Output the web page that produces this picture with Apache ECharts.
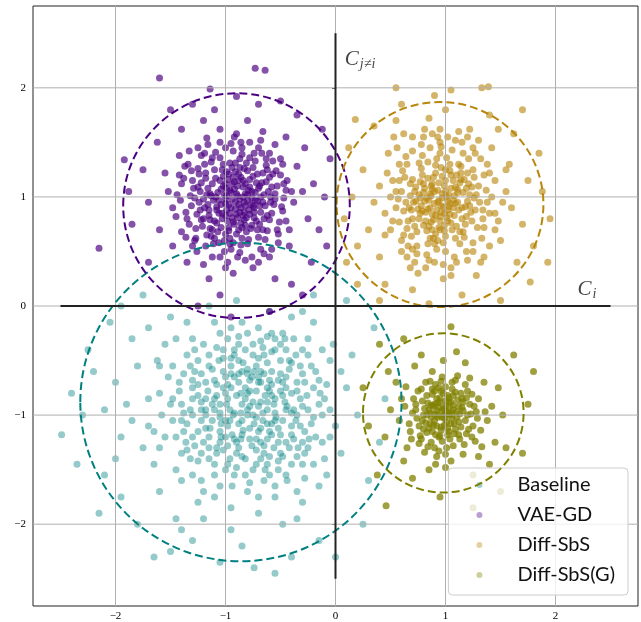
<!DOCTYPE html>
<html>
<head>
<meta charset="utf-8">
<script src="https://cdn.jsdelivr.net/npm/echarts@6/dist/echarts.min.js"></script>
<style>html,body{margin:0;padding:0;background:#fff;}#c{width:641px;height:622px;}</style>
</head>
<body>
<div id="c"></div>
<script>
// ---- data ----
const seriesNames = ['Baseline', 'VAE-GD', 'Diff-SbS', 'Diff-SbS(G)'];
const xTicks = [-2, -1, 0, 1, 2];
const yTicks = [-2, -1, 0, 1, 2];

const baselinePts = [
[-0.85,-0.90],[-0.62,-0.75],[-1.05,-1.02],[-0.70,-1.15],[-1.10,-0.68],[-0.95,-0.55],[-0.55,-1.05],[-0.80,-0.62],[-1.22,-0.95],[-0.48,-0.82],
[-0.90,-1.25],[-0.65,-0.45],[-1.15,-1.20],[-0.40,-1.10],[-1.30,-0.75],[-0.75,-1.00],[-1.00,-0.80],[-0.58,-0.60],[-0.88,-0.70],[-1.08,-1.35],
[-0.72,-1.32],[-1.25,-0.50],[-0.45,-0.95],[-0.98,-1.10],[-0.68,-0.88],[-1.35,-1.08],[-0.52,-1.25],[-0.82,-0.40],[-1.18,-0.85],[-0.35,-0.70],
[-0.92,-0.98],[-0.60,-1.38],[-1.28,-1.28],[-0.78,-0.78],[-1.02,-0.60],[-0.42,-1.30],[-1.12,-1.05],[-0.85,-1.18],[-0.55,-0.85],[-1.40,-0.90],
[-0.72,-0.55],[-0.96,-1.40],[-0.30,-0.92],[-1.20,-0.35],[-0.66,-1.05],[-1.05,-0.90],[-0.88,-0.50],[-0.50,-0.50],[-1.32,-1.40],[-0.78,-1.22],
[-0.62,-0.95],[-1.00,-1.20],[-0.82,-0.85],[-1.15,-0.55],[-0.38,-1.22],[-0.92,-0.65],[-0.70,-0.70],[-1.25,-1.15],[-0.48,-1.05],[-1.08,-0.72],
[-0.58,-1.18],[-0.85,-1.05],[-1.38,-0.62],[-0.75,-0.35],[-0.98,-0.85],[-0.32,-0.55],[-1.10,-1.45],[-0.65,-0.62],[-0.90,-1.35],[-1.45,-1.20],
[-1.60,-0.80],[-0.10,-0.85],[-0.85,-0.15],[-0.80,-1.70],[-1.55,-0.35],[-0.20,-1.45],[-1.40,-1.60],[-0.25,-0.30],[-1.70,-1.10],[0.00,-1.10],
[-1.15,0.00],[-0.55,-1.75],[-1.80,-0.55],[-0.05,-0.50],[-1.25,-1.80],[-0.40,-0.10],[-1.65,-1.45],[-0.15,-1.65],[-0.95,-1.85],[-1.50,-0.10],
[-0.60,-0.05],[-1.90,-0.90],[0.10,-0.75],[-1.05,-1.65],[-0.30,-1.80],[-1.35,-0.15],[-1.75,-1.30],[-0.45,-1.55],[-1.85,-0.30],[0.05,-1.35],
[-0.70,-1.90],[-1.60,-1.70],[-0.20,-0.15],[-1.95,-1.20],[-1.20,-1.95],[0.15,-0.45],[-0.90,0.05],[-1.45,-1.95],[-0.35,-1.95],[-2.00,-0.70],
[-1.70,-0.20],[0.20,-1.00],[-0.65,-1.60],[-1.30,-1.55],[-0.12,-1.25],[-1.58,-1.00],[-0.48,-0.25],[-1.10,-1.75],[-0.28,-1.58],[-1.48,-0.55],
[-2.49,-1.18],[-0.74,-2.40],[-2.20,-0.60],[-2.10,-1.55],[-1.80,-2.00],[0.30,-1.60],[0.35,-0.20],[-2.30,-1.00],[-1.50,-2.25],[-0.40,-2.30],
[-0.15,-2.15],[-2.05,-0.15],[0.25,-2.00],[-1.05,-2.35],[-2.35,-1.45],[0.45,-0.85],[-1.95,-1.75],[-0.55,-2.45],[-2.15,-1.90],[-1.75,0.10],
[0.10,0.05],[-2.25,-0.40],[-0.85,-2.20],[0.40,-1.25],[-1.30,-2.15],[-1.95,0.00],[0.00,-2.30],[-2.40,-0.80],[-0.20,0.10],[-1.65,-2.30],
[-0.80,-0.95],[-0.95,-0.75],[-0.68,-1.12],[-1.12,-0.90],[-0.58,-0.72],[-0.88,-1.08],[-1.02,-0.48],[-0.45,-0.65],[-1.22,-1.05],[-0.75,-0.88],
[-0.98,-1.28],[-0.62,-0.52],[-1.18,-0.70],[-0.50,-1.35],[-0.85,-0.60],[-1.05,-0.98],[-0.35,-1.00],[-1.30,-0.85],[-0.72,-1.45],[-0.92,-0.40],
[-0.55,-0.98],[-1.40,-1.35],[-0.78,-0.68],[-1.15,-1.30],[-0.40,-0.80],[-1.00,-0.65],[-0.65,-1.28],[-1.35,-0.45],[-0.82,-1.55],[-0.28,-1.15]
];
const baselineMore = [
[-0.78,-0.92],[-0.90,-0.82],[-0.66,-0.98],[-1.00,-1.05],[-0.72,-0.78],[-0.84,-1.14],[-1.08,-0.82],[-0.56,-0.90],[-0.95,-0.62],[-0.62,-1.22],
[-1.18,-1.00],[-0.45,-0.75],[-0.88,-1.30],[-0.70,-0.48],[-1.25,-0.72],[-0.52,-1.12],[-1.02,-1.32],[-0.80,-0.58],[-0.38,-0.95],[-1.12,-0.58],
[-0.74,-1.08],[-0.96,-0.95],[-0.60,-0.68],[-1.05,-1.15],[-0.82,-0.75],[-0.48,-1.38],[-1.30,-1.00],[-0.68,-1.40],[-0.92,-0.45],[-1.20,-1.25],
[-0.42,-0.58],[-0.86,-0.98],[-0.64,-0.82],[-1.10,-0.95],[-0.76,-1.28],[-0.98,-0.72],[-0.54,-1.02],[-1.28,-0.60],[-0.34,-1.30],[-0.88,-0.35],
[-1.36,-1.25],[-0.58,-0.42],[-1.00,-1.50],[-0.26,-0.82],[-0.70,-0.92],[-1.15,-1.40],[-0.82,-1.40],[-0.50,-0.62],[-1.42,-0.78],[-0.30,-1.45],
[-0.76,-0.65],[-0.94,-1.18],[-0.62,-1.08],[-1.06,-0.50],[-0.40,-1.18],[-1.22,-0.88],[-0.84,-0.52],[-0.56,-1.30],[-1.14,-1.12],[-0.72,-1.22],
[-0.46,-0.88],[-1.32,-0.95],[-0.90,-1.48],[-0.66,-0.38],[-1.48,-1.05],[-0.22,-1.08],[-1.08,-0.38],[-0.52,-1.50],[-1.25,-1.42],[-0.36,-0.45],
[-0.80,-1.00],[-0.99,-0.90],[-0.68,-0.70],[-0.86,-0.80],[-0.60,-1.15],[-1.04,-1.08],[-0.74,-0.60],[-0.92,-1.22],[-0.50,-0.78],[-1.16,-0.78],
[-0.64,-1.50],[-1.38,-1.15],[-0.18,-0.60],[-0.98,-0.30],[-1.52,-0.65],[-0.44,-1.60],[-1.22,-1.60],[-0.12,-1.00],[-0.78,-1.62],[-1.60,-1.30],
[-0.58,-0.25],[-1.30,-0.30],[-0.08,-0.72],[-0.94,-1.65],[-1.70,-0.85],[-0.25,-1.30],[-1.45,-1.50],[-0.70,-0.20],[-0.35,-1.70],[-1.85,-1.05],
[-1.62,-0.50],[-0.05,-1.20],[-1.10,-0.15],[-0.48,-2.00],[-2.00,-1.40],[0.05,-0.60],[-1.40,-2.05],[-0.95,-2.05],[-2.10,-0.95],[-0.30,-0.05],
[-0.45,-0.40],[-0.30,-0.62],[-0.20,-0.75],[-0.38,-0.30],[-0.55,-0.30],[-0.25,-0.45],[-0.15,-0.90],[-0.62,-0.28],[-0.42,-0.50],[-0.18,-1.20],
[-0.32,-0.85],[-0.48,-0.70],[-0.22,-0.55],[-0.68,-0.60],[-0.12,-0.40],[-0.58,-0.82],[-0.36,-1.05],[-0.10,-1.40],[-0.28,-1.35],[-0.40,-1.45],
[-0.92,-1.55],[-1.10,-1.55],[-1.30,-1.20],[-1.40,-1.05],[-1.50,-0.90],[-1.28,-0.40],[-1.45,-0.30],[-0.70,-1.75],[-0.55,-1.65],[-1.20,-1.70],
[-0.05,-0.95],[-0.02,-0.35],[-0.08,-1.55],[-1.60,-0.55],[-1.65,-1.15],[-0.80,-0.25],[-1.05,-0.25],[-0.60,-1.55],[-1.55,-1.20],[-0.95,-0.20],
[-1.25,-0.82],[-1.18,-1.12],[-1.05,-1.25],[-0.85,-1.38],[-0.65,-1.35],[-0.45,-1.25],[-0.32,-1.10],[-0.25,-0.95],[-0.28,-0.70],[-0.40,-0.52],
[-0.55,-0.40],[-0.75,-0.45],[-0.95,-0.48],[-1.15,-0.45],[-1.32,-0.55],[-1.42,-0.70],[-1.38,-0.98],[-1.22,-1.35],[-0.98,-1.45],[-0.75,-1.50],
[-0.52,-1.42],[-0.35,-1.38],[-0.20,-1.02],[-0.15,-0.68],[-0.30,-0.40],[-0.50,-0.35],[-0.68,-0.32],[-1.02,-0.40],[-1.22,-0.62],[-1.10,-0.85],
[-0.93,-1.00],[-0.72,-1.02],[-0.58,-1.08],[-0.44,-0.92],[-0.62,-0.88],[-0.80,-0.80],[-1.02,-0.75],[-0.88,-0.62],[-0.70,-0.65],[-0.52,-0.68],
[-0.35,-0.78],[-0.40,-0.98],[-0.50,-1.18],[-0.68,-1.25],[-0.86,-1.22],[-1.04,-1.20],[-1.18,-0.95],[-0.96,-1.05],[-0.78,-1.12],[-0.60,-0.78],
[-0.24,-1.22],[-0.14,-0.80],[-1.48,-0.85],[-1.35,-1.32],[-0.88,-0.28],[-0.46,-0.30],[-0.30,-1.25],[-0.62,-1.45],[-1.08,-1.30],[-1.30,-0.68]
];

const vaeGdPts = [
[-0.91,0.95],[-1.02,1.10],[-0.78,0.84],[-0.65,1.02],[-1.15,0.88],[-0.88,0.70],[-0.97,1.21],[-0.72,1.13],[-1.08,0.76],[-0.84,1.00],
[-0.60,0.79],[-1.23,1.05],[-0.93,0.58],[-0.81,1.31],[-1.31,0.92],[-0.55,0.98],[-1.05,1.36],[-0.70,0.63],[-0.99,0.88],[-0.86,1.18],
[-1.18,1.22],[-0.62,1.25],[-1.10,0.62],[-0.76,0.99],[-0.95,1.04],[-1.27,0.71],[-0.48,0.87],[-0.89,0.45],[-1.40,1.12],[-0.67,1.40],
[-1.00,0.98],[-0.83,0.79],[-1.13,1.01],[-0.74,0.90],[-0.92,1.14],[-1.06,0.85],[-0.80,0.57],[-0.58,1.09],[-1.20,0.80],[-0.94,1.27],
[-1.34,1.30],[-0.44,1.15],[-1.01,0.50],[-0.69,0.75],[-1.16,1.48],[-0.85,1.45],[-0.52,0.66],[-1.45,0.82],[-0.79,1.06],[-0.97,0.72],
[-1.09,1.17],[-0.64,0.92],[-0.87,0.86],[-1.24,0.95],[-0.71,1.21],[-0.96,0.62],[-1.12,0.70],[-0.57,1.33],[-1.03,1.25],[-0.82,0.92],
[-1.52,1.05],[-0.38,0.95],[-0.90,1.58],[-0.93,0.30],[-1.30,0.55],[-0.50,1.35],[-1.25,1.45],[-0.60,0.45],[-1.60,0.70],[-0.25,0.80],
[-1.05,1.62],[-0.75,0.35],[-1.42,1.38],[-0.42,0.55],[-1.55,1.22],[-0.35,1.28],[-0.98,0.40],[-0.66,1.60],[-1.35,0.40],[-0.30,1.05],
[-1.70,0.95],[-0.20,1.12],[-1.15,0.25],[-0.80,1.70],[-1.48,0.55],[-0.45,1.55],[-1.20,1.70],[-0.55,0.25],[-1.75,1.25],[-0.15,0.70],
[-1.62,1.50],[-0.28,1.45],[-1.05,0.10],[-0.70,1.85],[-1.85,0.75],[-0.10,1.00],[-1.30,1.85],[-0.40,0.20],[-1.92,1.34],[-2.15,0.53],
[-1.60,2.09],[-1.14,1.99],[-0.73,2.18],[-0.64,2.16],[-0.35,1.75],[-0.05,1.35],[-1.50,1.80],[-0.90,1.92],[-0.22,0.40],[-1.70,0.40],
[-0.60,-0.05],[-0.95,-0.10],[-1.25,0.00],[-0.30,0.10],[-0.08,0.55],[-1.88,1.05],[-0.12,1.62],[-1.40,1.62],[-0.50,1.88],[-1.10,1.80],
[-0.89,1.01],[-0.77,0.93],[-1.04,0.93],[-0.94,0.81],[-0.84,1.09],[-1.11,0.97],[-0.73,1.04],[-0.99,1.08],[-0.86,0.76],[-0.95,0.90],
[-1.07,1.04],[-0.68,0.86],[-0.81,0.68],[-1.19,0.90],[-0.91,1.23],[-0.63,1.14],[-1.14,0.79],[-0.75,1.27],[-1.00,0.66],[-0.88,0.93],
[-0.78,1.16],[-1.22,1.13],[-0.96,1.31],[-0.66,0.70],[-1.03,0.80],[-0.85,0.62],[-1.16,1.08],[-0.71,0.96],[-0.92,1.07],[-1.08,0.91],
[-0.59,1.00],[-0.83,0.86],[-1.28,0.99],[-0.76,0.74],[-0.98,1.16],[-1.10,1.25],[-0.69,1.10],[-0.87,1.35],[-1.17,0.65],[-0.62,0.83],
[-0.93,0.77],[-1.01,1.02],[-0.80,1.24],[-1.26,0.84],[-0.74,0.81],[-1.06,0.58],[-0.56,0.93],[-0.90,0.84],[-1.13,1.32],[-0.82,1.03]
];
const vaeGdMore = [
[-0.87,0.98],[-0.96,1.06],[-0.79,0.88],[-1.03,0.85],[-0.70,1.08],[-1.12,1.12],[-0.85,0.72],[-0.93,1.18],[-0.66,0.95],[-1.20,0.98],
[-0.98,0.78],[-0.75,1.19],[-1.07,0.68],[-0.82,1.12],[-0.61,1.05],[-1.15,0.83],[-0.90,0.66],[-0.72,0.78],[-1.02,1.30],[-0.87,1.27],
[-1.29,1.08],[-0.53,1.10],[-0.95,0.52],[-1.21,0.73],[-0.64,0.61],[-0.78,1.36],[-1.09,1.41],[-0.47,0.99],[-1.36,0.86],[-0.89,1.10],
[-0.74,0.86],[-1.00,0.94],[-0.83,0.95],[-1.14,1.03],[-0.68,1.00],[-0.96,0.85],[-0.80,1.02],[-1.05,1.15],[-0.91,0.89],[-0.77,0.71],
[-1.18,1.17],[-0.58,0.85],[-0.99,1.23],[-0.86,0.56],[-1.24,1.21],[-0.63,1.29],[-1.11,0.57],[-0.73,1.33],[-1.32,1.01],[-0.51,0.77],
[-0.94,0.98],[-1.06,0.97],[-0.81,0.81],[-0.88,1.21],[-1.16,0.93],[-0.69,0.92],[-0.97,0.69],[-0.84,1.15],[-1.04,1.07],[-0.76,1.05],
[-1.23,0.88],[-0.60,1.18],[-0.92,0.75],[-1.10,0.78],[-0.71,0.70],[-0.85,1.39],[-1.19,1.30],[-0.55,1.03],[-1.01,0.60],[-0.79,0.61],
[-1.27,0.62],[-0.66,1.22],[-0.93,1.42],[-1.38,1.17],[-0.49,0.91],[-1.13,0.64],[-0.83,1.26],[-0.97,0.93],[-0.73,0.97],[-1.08,0.88],
[-0.89,0.81],[-1.00,1.12],[-0.78,1.09],[-1.17,1.02],[-0.65,0.80],[-0.91,1.31],[-1.22,0.79],[-0.57,1.21],[-1.04,0.72],[-0.82,0.74],
[-1.31,1.24],[-0.62,0.69],[-0.95,1.49],[-1.12,1.36],[-0.70,1.45],[-1.41,0.97],[-0.45,1.06],[-0.87,0.49],[-1.05,0.45],[-0.68,0.52],
[-0.90,1.03],[-0.80,0.97],[-1.00,0.83],[-0.86,0.90],[-0.94,1.12],[-1.09,1.00],[-0.75,0.92],[-0.99,1.01],[-0.84,0.83],[-1.02,1.19],
[-0.67,1.13],[-1.14,0.71],[-0.88,1.15],[-1.25,1.09],[-0.59,0.95],[-0.96,0.57],[-1.19,1.40],[-0.74,1.40],[-1.33,0.75],[-0.54,1.24],
[-1.30,1.15],[-1.35,0.80],[-1.28,0.60],[-1.22,1.38],[-1.05,1.50],[-0.78,1.50],[-0.60,1.40],[-0.50,1.20],[-0.45,0.78],[-0.52,0.58],
[-0.65,0.48],[-0.82,0.42],[-1.12,0.45],[-1.26,0.50],[-1.40,0.68],[-1.44,1.02],[-1.37,1.28],[-0.92,1.55],[-0.55,1.48],[-0.40,1.05],
[-0.42,0.70],[-0.70,0.40],[-1.00,0.35],[-1.20,0.38],[-1.48,0.90],[-1.33,1.42],[-0.68,1.52],[-0.48,1.30],[-0.58,0.52],[-1.17,1.54],
[-1.25,1.26],[-1.18,0.55],[-0.63,1.35],[-0.53,0.70],[-1.36,0.63],[-1.00,1.45],[-0.76,0.45],[-0.47,1.12],[-1.42,1.20],[-0.86,1.50]
];

const diffSbsPts = [
[0.93,0.95],[1.05,1.08],[0.82,0.86],[1.15,0.90],[0.88,1.12],[0.99,0.74],[0.76,1.02],[1.10,1.20],[0.95,0.82],[0.85,0.97],
[1.22,1.02],[0.70,0.80],[1.01,1.00],[0.91,0.66],[1.08,0.83],[0.79,1.20],[1.18,0.75],[0.96,1.27],[0.64,0.95],[1.27,0.88],
[0.87,0.77],[1.03,0.91],[0.74,0.68],[1.13,1.13],[0.90,1.05],[0.98,0.58],[0.68,1.12],[1.30,1.10],[0.84,1.32],[1.06,0.70],
[0.92,0.88],[1.20,0.96],[0.78,0.92],[1.00,1.15],[0.86,0.62],[1.14,1.28],[0.72,1.05],[0.97,0.99],[1.24,0.78],[0.81,1.08],
[1.04,0.84],[0.89,1.18],[0.66,0.78],[1.11,1.04],[0.94,0.72],[0.77,0.85],[1.17,1.16],[0.83,0.99],[1.09,0.62],[1.01,1.36],
[0.55,1.05],[1.38,0.95],[0.60,0.60],[1.32,1.35],[0.95,1.50],[0.90,0.40],[0.45,0.85],[1.45,0.70],[0.70,1.42],[1.25,0.50],
[0.58,1.30],[1.40,1.22],[1.05,0.35],[0.80,1.55],[0.40,1.10],[1.55,1.05],[0.65,0.45],[1.20,1.55],[1.50,0.60],[0.50,0.70],
[1.12,1.60],[0.75,0.30],[1.35,0.45],[0.35,0.95],[1.60,0.90],[0.62,1.58],[1.42,1.45],[0.98,0.25],[0.48,1.40],[1.58,1.30],
[0.30,0.70],[1.70,0.75],[0.85,1.72],[1.28,0.28],[0.40,0.45],[1.48,1.62],[0.55,1.70],[1.65,0.40],[1.00,1.80],[0.25,1.25],
[1.75,1.15],[0.70,0.15],[1.40,1.75],[0.20,0.55],[1.80,0.55],[0.60,1.85],[1.15,0.10],[0.45,0.20],[1.62,1.58],[0.15,1.00],
[1.93,0.40],[0.90,1.93],[1.33,2.00],[1.39,2.01],[0.18,1.71],[1.77,0.22],[0.10,0.40],[1.88,1.05],[0.35,1.65],[1.50,0.05],
[0.85,0.02],[0.12,1.45],[1.95,0.80],[0.40,0.05],[1.70,1.80],[0.20,0.20],[1.05,1.98],[1.85,1.40],[0.55,2.00],[0.08,0.80],
[0.96,0.92],[1.07,0.97],[0.86,1.03],[1.02,0.78],[0.80,0.74],[1.12,0.88],[0.91,1.22],[0.73,0.96],[1.19,1.08],[0.99,1.10],
[0.88,0.70],[1.16,0.68],[0.69,0.88],[1.04,1.24],[0.93,0.60],[1.26,1.18],[0.77,1.14],[0.84,0.89],[1.09,0.94],[0.95,1.40],
[0.63,1.18],[1.34,0.80],[1.00,0.50],[0.74,0.55],[1.21,1.35]
];
const diffSbsMore = [
[0.94,0.97],[1.03,1.02],[0.86,0.90],[1.11,0.95],[0.80,1.04],[0.99,0.85],[1.07,1.15],[0.89,0.79],[1.16,1.04],[0.75,0.89],
[0.97,1.19],[1.22,0.92],[0.83,0.69],[1.05,0.76],[0.68,1.01],[1.14,1.22],[0.91,1.29],[1.28,1.02],[0.72,0.73],[1.00,0.64],
[0.87,1.10],[1.19,0.82],[0.78,1.26],[1.09,1.09],[0.95,0.78],[0.62,0.87],[1.25,1.25],[0.84,0.57],[1.13,0.57],[0.96,1.46],
[0.90,0.94],[1.02,0.88],[0.81,0.96],[1.08,1.01],[0.93,1.06],[1.15,0.80],[0.76,0.80],[0.98,0.91],[1.21,1.12],[0.70,1.16],
[0.88,0.84],[1.04,1.30],[0.65,0.71],[1.31,0.95],[0.92,0.52],[1.17,0.63],[0.79,1.38],[1.35,1.20],[0.57,0.98],[1.06,1.43],
[0.97,1.03],[0.84,1.17],[1.10,0.73],[0.73,1.09],[1.23,0.86],[0.89,0.62],[1.00,1.25],[0.67,0.90],[1.29,0.72],[0.82,0.78],
[1.12,1.30],[0.95,0.70],[0.61,1.24],[1.37,1.06],[0.86,1.45],[1.19,0.50],[0.74,0.48],[1.02,0.96],[0.91,0.83],[1.07,0.90],
[0.80,1.12],[1.14,1.16],[0.94,1.13],[0.77,0.99],[1.26,0.99],[0.99,0.69],[0.69,0.64],[1.05,1.20],[0.87,1.01],[1.18,0.91],
[0.58,0.77],[1.40,0.85],[0.83,0.47],[1.08,0.45],[0.93,1.55],[1.27,1.40],[0.64,1.37],[1.33,0.62],[0.52,1.15],[1.00,1.05],
[0.96,0.86],[1.04,0.94],[0.88,1.07],[1.11,1.07],[0.79,0.87],[0.92,1.35],[1.20,1.22],[0.71,0.95],[1.13,0.68],[0.85,0.73],
[1.01,0.81],[0.76,1.31],[1.24,1.09],[0.60,1.05],[1.16,1.40],[0.90,0.57],[1.34,0.88],[0.66,0.55],[1.09,1.52],[0.81,1.62],
[0.55,0.90],[0.58,1.15],[0.62,0.65],[0.70,0.52],[0.85,0.42],[1.10,0.40],[1.25,0.58],[1.35,0.72],[1.42,1.00],[1.38,1.30],
[1.25,1.45],[1.02,1.55],[0.78,1.48],[0.65,1.30],[0.50,1.00],[0.52,0.78],[0.72,0.40],[0.98,0.38],[1.20,0.42],[1.45,0.85],
[1.45,1.15],[1.30,1.52],[0.88,1.58],[0.70,1.55],[0.56,1.45],[0.47,1.22],[1.52,0.95],[1.15,1.50],[0.60,0.50],[1.40,0.55],
[0.95,1.62],[0.68,0.35],[1.32,0.40],[0.45,0.65],[1.55,1.25],[0.82,0.35],[1.05,0.28],[1.48,0.78],[0.53,1.55],[1.22,1.62]
];

const diffSbsGPts = [
[0.97,-0.96],[1.05,-0.88],[0.90,-1.05],[1.10,-1.02],[0.92,-0.85],[1.02,-1.12],[0.85,-0.95],[1.15,-0.93],[0.98,-0.80],[0.88,-1.15],
[1.08,-1.08],[0.80,-1.00],[1.00,-0.92],[0.94,-1.20],[1.18,-1.05],[0.83,-0.82],[1.06,-0.76],[0.76,-1.10],[1.22,-0.90],[0.99,-1.03],
[0.91,-0.72],[1.12,-1.18],[0.73,-0.90],[1.03,-0.99],[0.87,-1.25],[1.25,-1.10],[0.95,-0.88],[1.14,-0.80],[0.78,-1.22],[1.01,-1.30],
[0.82,-0.70],[1.20,-0.78],[0.93,-1.00],[1.07,-0.95],[0.86,-1.08],[1.11,-0.86],[0.96,-1.14],[0.70,-0.98],[1.28,-0.97],[0.89,-0.92],
[1.04,-1.22],[0.81,-1.34],[1.17,-1.27],[0.97,-0.65],[0.75,-0.78],[1.30,-0.85],[0.92,-1.38],[1.09,-0.68],[0.68,-1.15],[1.24,-1.20],
[0.60,-0.85],[1.38,-1.05],[0.65,-1.30],[1.35,-0.70],[0.98,-0.50],[1.00,-1.48],[0.58,-1.05],[1.42,-0.92],[0.72,-0.55],[1.30,-1.38],
[0.55,-0.70],[1.45,-1.25],[0.85,-1.50],[1.18,-0.52],[0.62,-1.42],[1.48,-0.75],[0.50,-0.95],[1.40,-1.45],[0.78,-0.45],[1.25,-1.55],
[1.52,-1.00],[0.45,-1.20],[1.10,-0.42],[0.70,-1.58],[1.55,-1.30],[0.48,-0.60],
[0.46,-1.83],[1.05,-0.19],[1.80,-0.60],[0.40,-0.35],[1.70,-1.35],[0.30,-1.10],[1.62,-0.45],[0.95,-1.75],[0.38,-1.55],[1.50,-1.70],
[1.75,-0.90],[0.62,-0.30],[1.25,-1.85],[0.25,-0.75],
[1.01,-0.97],[0.94,-0.93],[1.06,-1.03],[0.90,-0.99],[1.03,-0.84],[0.87,-1.02],[1.13,-0.99],[0.99,-1.09],[0.84,-0.89],[1.09,-1.13],
[0.96,-0.78],[1.16,-0.88],[0.79,-1.05],[1.02,-1.18],[0.92,-1.10],[1.20,-1.00],[0.88,-0.76],[1.07,-0.82],[0.83,-1.16],[1.00,-0.87]
];
const diffSbsGMore = [
[0.98,-0.94],[1.04,-1.00],[0.93,-1.02],[1.07,-0.91],[0.90,-0.90],[1.01,-1.06],[0.86,-0.98],[1.12,-1.06],[0.95,-0.84],[1.03,-1.15],
[0.82,-1.07],[1.16,-0.96],[0.91,-1.18],[1.09,-0.79],[0.79,-0.87],[1.21,-1.13],[0.97,-1.24],[1.00,-0.74],[0.74,-1.03],[1.26,-0.92],
[0.88,-0.81],[1.13,-1.22],[0.84,-1.29],[1.06,-0.70],[0.71,-0.85],[1.29,-1.03],[0.94,-1.33],[1.18,-0.72],[0.77,-1.19],[1.03,-0.88],
[0.99,-1.00],[0.92,-0.96],[1.05,-1.08],[0.87,-0.91],[1.10,-0.97],[0.96,-1.11],[0.83,-1.00],[1.14,-1.11],[0.90,-0.78],[1.02,-0.82],
[0.80,-1.13],[1.19,-0.84],[0.95,-1.19],[1.07,-1.28],[0.73,-0.95],[1.23,-0.99],[0.86,-0.69],[1.11,-0.64],[0.67,-1.08],[1.32,-1.14],
[0.97,-1.02],[1.03,-0.93],[0.89,-1.09],[1.08,-1.17],[0.94,-0.75],[1.15,-0.85],[0.81,-0.94],[1.00,-1.36],[0.76,-1.26],[1.27,-1.24],
[0.63,-0.92],[1.36,-0.97],[0.88,-0.60],[1.05,-1.42],[0.69,-1.22],[1.22,-0.66],[0.91,-1.45],[1.33,-1.29],[0.64,-0.74],[1.16,-1.36],
[1.00,-0.96],[0.93,-0.89],[1.06,-0.98],[0.85,-1.12],[1.12,-0.92],[0.96,-0.69],[0.78,-0.76],[1.19,-1.17],[0.90,-1.30],[1.24,-0.81]
];

// dashed circles: [centerX, centerY, radius]
const circles = [
  [-0.86, -0.88, 1.46],
  [-0.90, 0.92, 1.03],
  [0.95, 0.93, 0.94],
  [0.98, -0.98, 0.73]
];
const hLine = [[-2.5, 0], [2.5, 0]];
const vLine = [[0, -2.5], [0, 2.5]];
const ciLabel = [[2.20, 0.155]];
const cjLabel = [[0.085, 2.26]];

// ---- styling ----
const colors = ['#008080', '#4B0082', '#B8860B', '#808000'];
const ptOpacity = [0.42, 0.68, 0.62, 0.75];
const fmt = v => (v < 0 ? '\u2212' + Math.abs(v) : String(v));
const tickFont = { fontFamily: 'Liberation Serif', fontSize: 11, color: '#000' };

const chart = echarts.init(document.getElementById('c'), null, { renderer: 'canvas' });

const ptSets = [
  baselinePts.concat(baselineMore),
  vaeGdPts.concat(vaeGdMore),
  diffSbsPts.concat(diffSbsMore),
  diffSbsGPts.concat(diffSbsGMore)
];
const scatterSeries = ptSets.map((d, i) => ({
  name: seriesNames[i],
  type: 'scatter',
  data: d,
  symbol: 'circle',
  symbolSize: 7,
  itemStyle: { color: colors[i], opacity: ptOpacity[i] },
  z: 2,
  silent: true,
  animation: false,
  large: false
}));

const gridLineSeries = (vertical) => ({
  type: 'custom',
  data: (vertical ? xTicks : yTicks).map(v => vertical ? [v, 0] : [0, v]),
  encode: { x: 0, y: 1 },
  z: 3,
  silent: true,
  animation: false,
  renderItem: (params, api) => {
    const cs = params.coordSys;
    const p = api.coord([api.value(0), api.value(1)]);
    const shape = vertical
      ? { x1: p[0], y1: cs.y, x2: p[0], y2: cs.y + cs.height }
      : { x1: cs.x, y1: p[1], x2: cs.x + cs.width, y2: p[1] };
    return { type: 'line', shape, style: { stroke: '#b0b0b0', lineWidth: 1 } };
  }
});

const option = {
  animation: false,
  backgroundColor: '#fff',
  grid: { left: 33, right: 3, top: 6, bottom: 15, show: true, borderColor: '#222', borderWidth: 1, backgroundColor: 'transparent' },
  xAxis: {
    type: 'value', min: -2.75, max: 2.75,
    axisLine: { show: false },
    splitLine: { show: false },
    axisTick: { show: true, customValues: xTicks, length: 3.5, lineStyle: { color: '#222', width: 0.8 } },
    axisLabel: { customValues: xTicks, formatter: fmt, margin: 5, ...tickFont }
  },
  yAxis: {
    type: 'value', min: -2.75, max: 2.75,
    axisLine: { show: false },
    splitLine: { show: false },
    axisTick: { show: true, customValues: yTicks, length: 3.5, lineStyle: { color: '#222', width: 0.8 } },
    axisLabel: { customValues: yTicks, formatter: fmt, margin: 7, ...tickFont }
  },
  legend: {
    data: seriesNames,
    orient: 'vertical',
    right: 13,
    bottom: 27,
    icon: 'circle',
    itemWidth: 6,
    itemHeight: 6,
    itemGap: 10,
    padding: [7, 13, 10, 28],
    backgroundColor: 'rgba(255,255,255,0.8)',
    borderColor: '#cccccc',
    borderWidth: 1,
    borderRadius: 4,
    selectedMode: false,
    itemStyle: { opacity: 0.38 },
    textStyle: { fontFamily: 'Lato', fontSize: 20, color: '#111', padding: [0, 0, 0, 30] }
  },
  series: [
    ...scatterSeries,
    gridLineSeries(true),
    gridLineSeries(false),
    {
      type: 'custom',
      data: circles,
      encode: { x: 0, y: 1 },
      z: 4,
      silent: true,
      animation: false,
      renderItem: (params, api) => {
        const c = api.coord([api.value(0), api.value(1)]);
        const s = api.size([api.value(2), api.value(2)]);
        return {
          type: 'ellipse',
          shape: { cx: c[0], cy: c[1], rx: s[0], ry: s[1] },
          style: { fill: 'none', stroke: colors[params.dataIndex], lineWidth: 2, lineDash: [8, 4] }
        };
      }
    },
    { type: 'line', data: hLine, symbol: 'none', z: 5, silent: true, lineStyle: { color: '#222', width: 2 } },
    { type: 'line', data: vLine, symbol: 'none', z: 5, silent: true, lineStyle: { color: '#222', width: 2 } },
    {
      type: 'scatter', data: ciLabel, symbolSize: 0, z: 6, silent: true,
      label: {
        show: true, position: 'right', distance: 0,
        formatter: '{c|C}{s|i}',
        rich: {
          c: { fontFamily: 'Liberation Serif', fontStyle: 'italic', fontSize: 21, color: '#111' },
          s: { fontFamily: 'Liberation Serif', fontStyle: 'italic', fontSize: 14, color: '#111', padding: [10, 0, 0, 1] }
        }
      }
    },
    {
      type: 'scatter', data: cjLabel, symbolSize: 0, z: 6, silent: true,
      label: {
        show: true, position: 'right', distance: 0,
        formatter: '{c|C}{s|j\u2260i}',
        rich: {
          c: { fontFamily: 'Liberation Serif', fontStyle: 'italic', fontSize: 21, color: '#111' },
          s: { fontFamily: 'Liberation Serif', fontStyle: 'italic', fontSize: 14, color: '#111', padding: [10, 0, 0, 1] }
        }
      }
    }
  ]
};
chart.setOption(option);
</script>
</body>
</html>
